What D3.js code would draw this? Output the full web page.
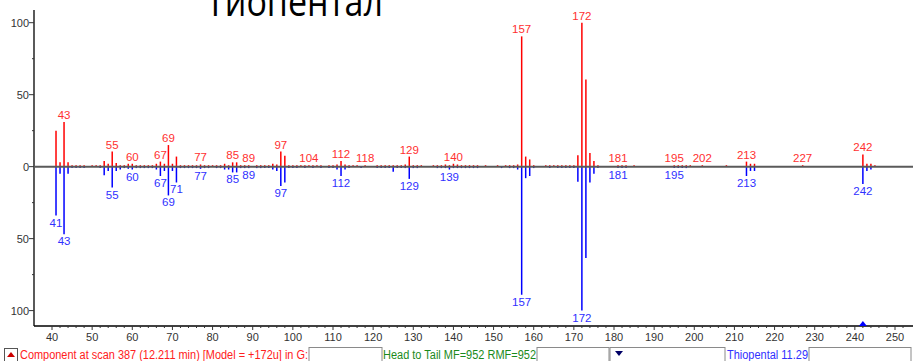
<!DOCTYPE html>
<html>
<head>
<meta charset="utf-8">
<script src="https://cdn.jsdelivr.net/npm/d3@7"></script>
<style>
  html, body { margin: 0; padding: 0; background: #fff; }
  svg { display: block; }
</style>
</head>
<body>
<div id="chart"></div>
<script>
// Sample spectrum (red, upper) and library spectrum (blue, lower)
const upperMz = [41,42,43,44,45,46,47,48,50,51,52,53,54,55,56,57,58,59,60,61,62,63,64,65,66,67,68,69,70,71,72,73,74,75,76,77,78,79,80,81,82,83,84,85,86,87,88,89,91,92,93,94,95,96,97,98,99,100,101,102,103,104,105,106,107,109,110,111,112,113,114,115,116,118,121,122,123,124,125,126,127,128,129,130,131,132,135,136,137,138,139,140,141,142,143,144,145,146,148,151,153,154,155,156,157,158,159,160,163,164,165,166,167,168,169,170,171,172,173,174,175,176,181,182,183,185,195,196,197,198,199,202,208,213,214,215,227,242,243,244,245];
const upperInt = [25,3,31,3,1,1,1,1,1,1,1,4,2,10.5,2.5,1,1,2,2,1,1,1,1,1,2,3.5,2,15,2,7,1,1,1,1,1,1.5,1,1,1,1,1,2,1,3,3,1,1,1,1,1,1,1,2,1.5,10.5,7.5,1,1,1,1,1,1,1,1,1,1,1,1.5,4,1.5,1,1,1,1,1,1,1,1,1,1,1,1.5,7,1,1,1,1,1,1,1.5,1,2,1.5,1,1,1,1,1,1,1,1,1,1,1.5,90.5,7,5,1,1,1,1,1,1,1,1,1,8,100,60.5,9.5,4,1,1,1,1,1,1,1,1,1,1,1,1,3.5,2,2,1,8.5,2,2,1];

const lowerMz = [41,42,43,44,45,46,47,48,52,53,54,55,56,57,58,59,60,61,62,63,64,65,66,67,68,69,70,71,72,73,74,75,76,77,78,79,81,82,83,84,85,86,87,88,89,91,92,93,94,95,96,97,98,99,100,101,103,105,107,109,110,111,112,113,114,117,121,122,123,124,125,126,127,128,129,130,131,136,137,138,139,140,141,142,143,144,145,146,152,154,155,156,157,158,159,160,164,166,167,168,169,170,171,172,173,174,175,176,181,182,183,195,196,197,198,213,214,215,242,243,244];
const lowerInt = [34,5,47,5,1,1,1,1,1,6,3,14.5,3,2,1,1.5,2,1,1,1,1,1,2,6.5,3,20,3,11,1,1,1,1,1,1.5,1,1,1,1,2,2,4,4,1,1,1,1,1,1,1,2,3,13.5,11,1,1,1,1,1,1,1,1,2,6.5,2,1,1,1,1,1,1,3.5,1,1,1,8.5,1,1,1,1,1,2,1,1,1,1,1,1,1,1,1,1,2,89,8,6.5,1,1,1,1,1,1,1,10.5,100,63.5,11,5,1,1,1,1,1,1,1,1,6.5,3,3,12,3,2];

const upperLabels = [43,55,60,67,69,77,85,89,97,104,112,118,129,140,157,172,181,195,202,213,227,242];
const lowerLabels = [41,43,55,60,67,69,71,77,85,89,97,112,129,139,157,172,181,195,213,242];

const xTicks = [40,50,60,70,80,90,100,110,120,130,140,150,160,170,180,190,200,210,220,230,240,250];
const yTicks = [100,50,0,-50,-100];

const titleText = 'Тиопентал';
const statusRed = 'Component at scan 387 (12.211 min) [Model = +172u] in G:';
const statusGreen = 'Head to Tail MF=952 RMF=952';
const statusBlue = 'Thiopental 11.29';
const markerMz = 242;

const W = 913, H = 361;
const font = '"Liberation Sans", Arial, sans-serif';

const svg = d3.select('#chart').append('svg')
  .attr('width', W).attr('height', H);

const x = d3.scaleLinear().domain([40, 250]).range([52, 895]);
const y = d3.scaleLinear().domain([-100, 100]).range([310.6, 22.7]);

// axes frame
const axisX = 34, axisY = 326;
svg.append('line').attr('x1', axisX).attr('x2', axisX).attr('y1', 10).attr('y2', axisY)
  .attr('stroke', '#000').attr('stroke-width', 1.3);
svg.append('line').attr('x1', axisX).attr('x2', W).attr('y1', axisY).attr('y2', axisY)
  .attr('stroke', '#000').attr('stroke-width', 1.3);

// y ticks (major + minor)
const yMinor = d3.range(-100, 101, 25).filter(v => v % 50 !== 0);
svg.selectAll('.ytick').data(yTicks).enter().append('line')
  .attr('x1', axisX - 5).attr('x2', axisX)
  .attr('y1', d => y(d)).attr('y2', d => y(d))
  .attr('stroke', '#333');
svg.selectAll('.yminor').data(yMinor).enter().append('line')
  .attr('x1', axisX - 2).attr('x2', axisX)
  .attr('y1', d => y(d)).attr('y2', d => y(d))
  .attr('stroke', '#333');
svg.selectAll('.ylab').data(yTicks).enter().append('text')
  .attr('x', axisX - 5).attr('y', d => y(d) + 4)
  .attr('text-anchor', 'end')
  .attr('font-family', font).attr('font-size', 11)
  .attr('fill', '#333')
  .text(d => Math.abs(d));

// x ticks
const xMinor = d3.range(40, 254, 2).filter(v => v % 10 !== 0);
svg.selectAll('.xtick').data(xTicks).enter().append('line')
  .attr('x1', d => x(d)).attr('x2', d => x(d))
  .attr('y1', axisY).attr('y2', axisY + 4)
  .attr('stroke', '#333');
svg.selectAll('.xminor').data(xMinor).enter().append('line')
  .attr('x1', d => x(d)).attr('x2', d => x(d))
  .attr('y1', axisY).attr('y2', axisY + 2)
  .attr('stroke', '#333');
svg.selectAll('.xlab').data(xTicks).enter().append('text')
  .attr('x', d => x(d)).attr('y', 341)
  .attr('text-anchor', 'middle')
  .attr('font-family', font).attr('font-size', 11)
  .attr('fill', '#333')
  .text(d => d);

// marker triangle on x axis
svg.append('path')
  .attr('d', `M${x(markerMz) - 4},${axisY} L${x(markerMz) + 4},${axisY} L${x(markerMz)},${axisY - 5} Z`)
  .attr('fill', '#0000ff');

// peaks
const upper = upperMz.map((m, i) => ({ mz: m, v: upperInt[i] }));
const lower = lowerMz.map((m, i) => ({ mz: m, v: lowerInt[i] }));

svg.selectAll('.up').data(upper).enter().append('line')
  .attr('x1', d => x(d.mz)).attr('x2', d => x(d.mz))
  .attr('y1', y(0)).attr('y2', d => y(d.v))
  .attr('stroke', '#ff0000').attr('stroke-width', 1.5);
svg.selectAll('.down').data(lower).enter().append('line')
  .attr('x1', d => x(d.mz)).attr('x2', d => x(d.mz))
  .attr('y1', y(0)).attr('y2', d => y(-d.v))
  .attr('stroke', '#0000ff').attr('stroke-width', 1.5);

// zero line
svg.append('line').attr('x1', axisX).attr('x2', W).attr('y1', y(0)).attr('y2', y(0))
  .attr('stroke', '#5a5a5a').attr('stroke-width', 2);

// peak labels
const upVal = new Map(upper.map(d => [d.mz, d.v]));
const lowVal = new Map(lower.map(d => [d.mz, d.v]));
svg.selectAll('.ulab').data(upperLabels).enter().append('text')
  .attr('x', d => x(d)).attr('y', d => y(upVal.get(d) || 1) - 3)
  .attr('text-anchor', 'middle')
  .attr('font-family', font).attr('font-size', 11.5)
  .attr('fill', '#ff3030')
  .text(d => d);
svg.selectAll('.llab').data(lowerLabels).enter().append('text')
  .attr('x', d => x(d)).attr('y', d => y(-(lowVal.get(d) || 1)) + 11)
  .attr('text-anchor', 'middle')
  .attr('font-family', font).attr('font-size', 11.5)
  .attr('fill', '#3030ff')
  .text(d => d);

// title (cut off at the top edge, as in the source screenshot)
svg.append('text')
  .attr('x', 206).attr('y', 16)
  .attr('font-family', '"Open Sans", "Noto Sans", sans-serif')
  .attr('font-size', 40)
  .attr('textLength', 177).attr('lengthAdjust', 'spacingAndGlyphs')
  .attr('fill', '#000')
  .text(titleText);

// status bar
const sb = svg.append('g');
const boxes = [[309, 382], [537, 609], [610, 725], [809, 911]];
boxes.forEach(b => {
  sb.append('rect').attr('x', b[0]).attr('y', 347.5).attr('width', b[1] - b[0]).attr('height', 14)
    .attr('fill', '#fff').attr('stroke', '#8a8a8a');
});
sb.append('rect').attr('x', 4.5).attr('y', 348.5).attr('width', 13).attr('height', 13)
  .attr('fill', '#fff').attr('stroke', '#555');
sb.append('path').attr('d', 'M7,357 L15,357 L11,352 Z').attr('fill', '#cc0000');
sb.append('path').attr('d', 'M615,351 L623,351 L619,356 Z').attr('fill', '#000066');

sb.append('text').attr('x', 20).attr('y', 359)
  .attr('font-family', font).attr('font-size', 12)
  .attr('textLength', 288).attr('lengthAdjust', 'spacingAndGlyphs')
  .attr('fill', '#ff2020').text(statusRed);
sb.append('text').attr('x', 383).attr('y', 359)
  .attr('font-family', font).attr('font-size', 12)
  .attr('textLength', 153).attr('lengthAdjust', 'spacingAndGlyphs')
  .attr('fill', '#1a8a1a').text(statusGreen);
sb.append('text').attr('x', 727).attr('y', 359)
  .attr('font-family', font).attr('font-size', 12)
  .attr('textLength', 81).attr('lengthAdjust', 'spacingAndGlyphs')
  .attr('fill', '#3030ff').text(statusBlue);
</script>
</body>
</html>
